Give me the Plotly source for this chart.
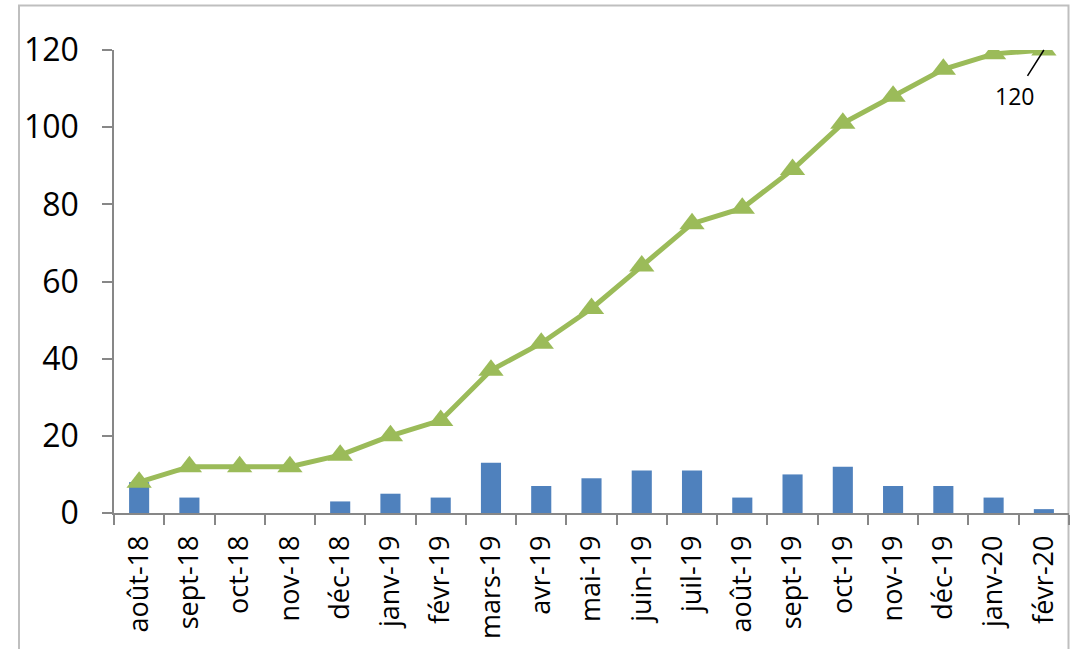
import plotly.graph_objects as go

months = ["août-18", "sept-18", "oct-18", "nov-18", "déc-18", "janv-19", "févr-19",
          "mars-19", "avr-19", "mai-19", "juin-19", "juil-19", "août-19", "sept-19",
          "oct-19", "nov-19", "déc-19", "janv-20", "févr-20"]
monthly = [8, 4, 0, 0, 3, 5, 4, 13, 7, 9, 11, 11, 4, 10, 12, 7, 7, 4, 1]
cumulative = [8, 12, 12, 12, 15, 20, 24, 37, 44, 53, 64, 75, 79, 89, 101, 108, 115, 119, 120]

W, H = 1081, 649
L, R, T, B = 114, 12, 50, 136
pw, ph = W - L - R, H - T - B

fig = go.Figure()
fig.add_trace(go.Bar(x=months, y=monthly, marker=dict(color="#4F81BD", line=dict(width=0)),
                     width=0.4, showlegend=False))
fig.add_trace(go.Scatter(x=months, y=cumulative, mode="lines+markers",
                         line=dict(color="#9BBB59", width=5),
                         marker=dict(symbol="triangle-up", size=22, color="#9BBB59"),
                         showlegend=False))

# label on the last point
fig.add_annotation(x=months[-1], y=cumulative[-1], text=str(cumulative[-1]),
                   showarrow=True, arrowhead=0, arrowwidth=1.5, arrowcolor="black",
                   ax=-29, ay=46, startstandoff=3,
                   font=dict(family="Open Sans", size=23, color="black"))

# outer chart frame
def px_x(p):
    return (p - L) / pw

def px_y(p):
    return 1 - (p - T) / ph

fig.add_shape(type="rect", xref="paper", yref="paper",
              x0=px_x(19), x1=px_x(1068.5), y0=px_y(660), y1=px_y(5.5),
              line=dict(color="#BFBFBF", width=2), layer="below")

fig.update_layout(
    width=W, height=H, margin=dict(l=L, r=R, t=T, b=B),
    paper_bgcolor="white", plot_bgcolor="white", bargap=0.6,
    font=dict(family="Open Sans", color="black"),
)
fig.update_xaxes(type="category", showgrid=False, showline=True, linecolor="#878787",
                 linewidth=1.5, ticks="outside", ticklen=10, tickcolor="#878787",
                 tickwidth=1.5, tickson="boundaries", tickangle=-90, automargin=False,
                 ticklabelstandoff=10,
                 tickfont=dict(family="Open Sans", size=27, color="black"),
                 range=[-0.5, len(months) - 0.5])
fig.update_yaxes(range=[0, 120], dtick=20, showgrid=False, zeroline=False, showline=True,
                 linecolor="#878787", linewidth=1.5, ticks="outside", ticklen=10,
                 tickcolor="#878787", tickwidth=1.5, automargin=False,
                 ticklabelstandoff=17,
                 tickfont=dict(family="Open Sans", size=32, color="black"))

fig.write_html("out.html")
